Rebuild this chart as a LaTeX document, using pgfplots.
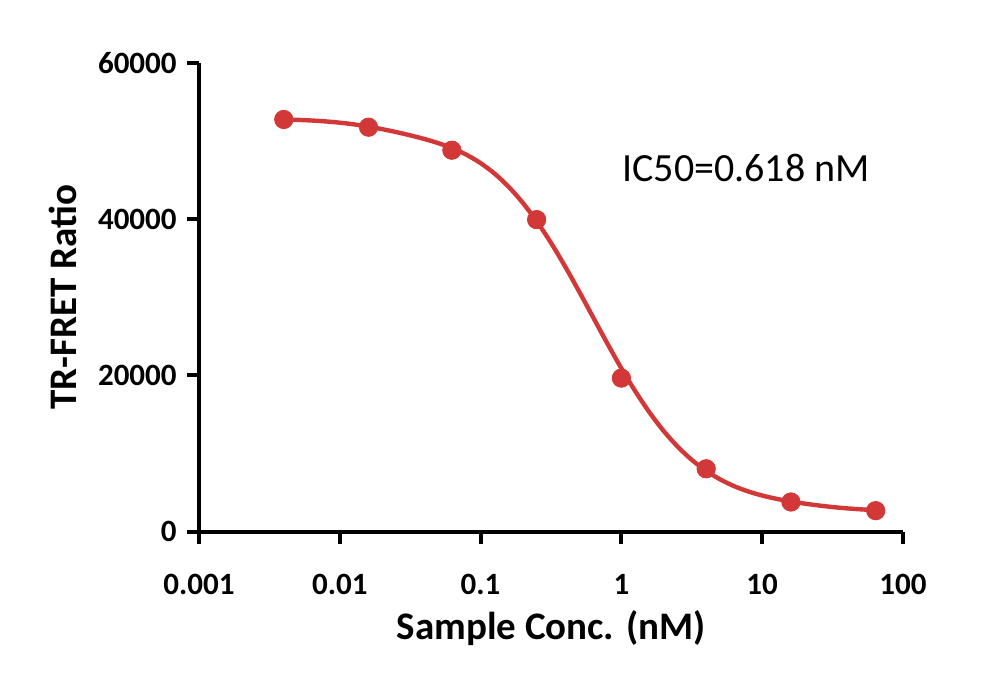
\documentclass[border=0pt]{standalone}
\usepackage{fontspec}
\setmainfont{Carlito}
\usepackage{pgfplots}
\usepackage{pgfplotstable}
\pgfplotsset{compat=1.18}
\definecolor{fitred}{RGB}{210,56,56}

% measured TR-FRET ratios (4-fold dilution series)
\pgfplotstableread{
conc   ratio
0.004  52737
0.016  51750
0.0625 48805
0.25   39927
1      19650
4      8050
16     3800
64     2690
}\measured

% fitted dose-response curve
\pgfplotstableread{
conc     ratio
0.004    52740
0.005012 52687
0.006310 52606
0.007943 52491
0.01     52329
0.01259  52113
0.01585  51837
0.01995  51506
0.02512  51127
0.03162  50708
0.03981  50243
0.05012  49707
0.06310  49054
0.07943  48222
0.1      47155
0.1259   45799
0.1585   44110
0.1995   42070
0.2512   39676
0.3162   36957
0.3981   33941
0.5012   30723
0.6310   27400
0.7943   24089
1        20900
1.259    17929
1.585    15247
1.995    12892
2.512    10875
3.162    9185
3.981    7814
5.012    6706
6.310    5832
7.943    5152
10       4627
12.59    4214
15.85    3879
19.95    3598
25.12    3357
31.62    3154
39.81    2989
50.12    2861
64       2761
}\fitcurve

\begin{document}
\begin{tikzpicture}
\useasboundingbox (-99.5pt,-74.65pt) rectangle (400.5pt,265.85pt);
\begin{axis}[
  scale only axis,
  width=352pt, height=234.5pt,
  xmode=log, log basis x=10,
  xmin=0.001, xmax=100,
  ymin=0, ymax=60000,
  axis x line*=bottom, axis y line*=left,
  axis line style={line width=2pt, black},
  tick style={line width=2pt, black},
  major tick length=6pt,
  tick align=outside,
  xminorticks=false, yminorticks=false,
  xtick={0.001,0.01,0.1,1,10,100},
  xticklabels={0.001,0.01,0.1,1,10,100},
  ytick={0,20000,40000,60000},
  yticklabels={0,20000,40000,60000},
  scaled y ticks=false,
  ticklabel style={font=\bfseries\fontsize{15.5}{18}\selectfont},
  xticklabel style={anchor=base, inner sep=0pt, yshift=-25.15pt},
  yticklabel style={anchor=east, inner sep=0pt, xshift=-5pt},
  every axis x label/.style={at={(axis description cs:0.5,-0.2306)}, anchor=base,
    font=\bfseries\fontsize{19.5}{23}\selectfont},
  every axis y label/.style={at={(axis description cs:-0.1747,0.5)}, rotate=90, anchor=base,
    font=\bfseries\fontsize{19.5}{23}\selectfont},
  xlabel={Sample Conc. (nM)},
  ylabel={TR-FRET Ratio},
  clip=false,
]
\addplot[fitred, line width=2.2pt, smooth, no marks] table[x=conc, y=ratio] {\fitcurve};
\addplot[only marks, mark=*, mark size=4.6pt, fitred,
  mark options={fill=fitred, draw=fitred}] table[x=conc, y=ratio] {\measured};
\node[anchor=base west, inner sep=0pt, font=\fontsize{20}{24}\selectfont]
  at (axis cs:1.01,44830) {IC50=0.618 nM};
\end{axis}
\end{tikzpicture}
\end{document}
